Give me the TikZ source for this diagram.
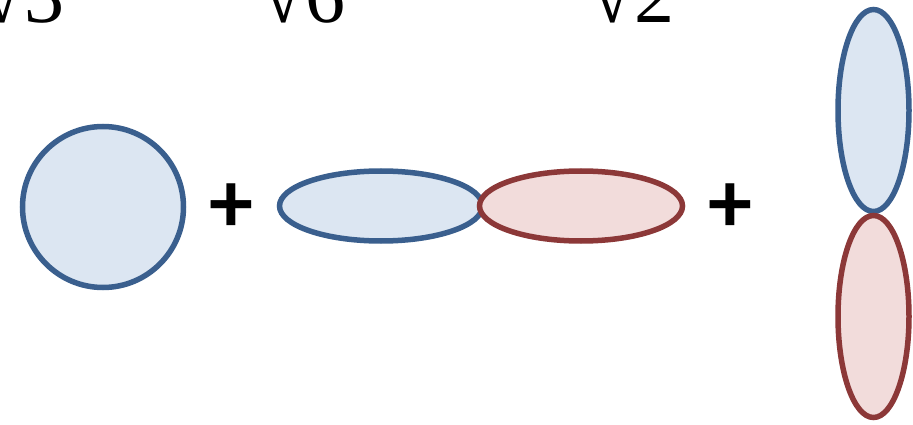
\documentclass[tikz,border=0pt]{standalone}
\usepackage{fontspec}
\setmainfont{Liberation Serif}
\newfontfamily\plusfont{Carlito}
\definecolor{bluestroke}{HTML}{3A5F8E}
\definecolor{bluefill}{HTML}{DCE6F2}
\definecolor{redstroke}{HTML}{8C3838}
\definecolor{redfill}{HTML}{F2DCDB}
\tikzset{
  blueorb/.style={draw=bluestroke, fill=bluefill, line width=5.5pt},
  redorb/.style={draw=redstroke, fill=redfill, line width=5.5pt},
  radlabel/.style={anchor=base west, inner sep=0pt, font=\fontsize{80}{80}\selectfont},
  plussign/.style={inner sep=0pt, font=\plusfont\bfseries\fontsize{88}{88}\selectfont}
}
\begin{document}
\begin{tikzpicture}[x=1pt,y=-1pt]
\useasboundingbox (0,0) rectangle (913,425);
\begin{scope}
\clip (0,0) rectangle (913,425);
\node[radlabel] (r3) at (-20,23) {√3};
\node[radlabel] (r6) at (261,23) {√6};
\node[radlabel] (r2) at (590,23) {√2};
\end{scope}
\draw[blueorb] (103,207) circle[radius=80.5];
\node[plussign] (p1) at (231,208) {+};
\draw[blueorb] (381,206) ellipse[x radius=101.5, y radius=35];
\draw[redorb] (581,206) ellipse[x radius=101.5, y radius=35];
\node[plussign] (p2) at (730,208) {+};
\draw[blueorb] (873.5,110.5) ellipse[x radius=35.5, y radius=101];
\draw[redorb] (873.5,316.5) ellipse[x radius=35.5, y radius=101];
\end{tikzpicture}
\end{document}
